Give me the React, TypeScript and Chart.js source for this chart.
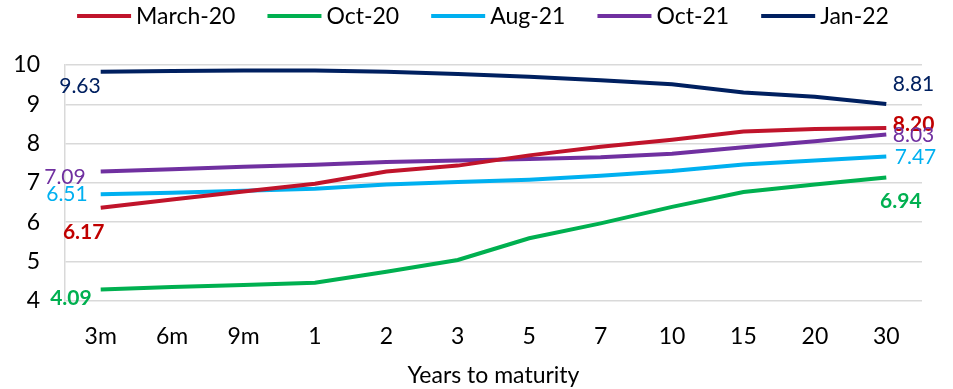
import React, { useEffect, useRef } from "react";
import { Chart, registerables } from "chart.js";

Chart.register(...registerables);

const categories = ["3m", "6m", "9m", "1", "2", "3", "5", "7", "10", "15", "20", "30"];
const seriesNames = ["March-20", "Oct-20", "Aug-21", "Oct-21", "Jan-22"];
const march20 = [6.17, 6.38, 6.58, 6.78, 7.09, 7.24, 7.5, 7.72, 7.9, 8.11, 8.17, 8.2];
const oct20 = [4.09, 4.15, 4.2, 4.26, 4.54, 4.84, 5.39, 5.77, 6.19, 6.57, 6.76, 6.94];
const aug21 = [6.51, 6.55, 6.6, 6.65, 6.76, 6.82, 6.88, 6.98, 7.1, 7.27, 7.37, 7.47];
const oct21 = [7.09, 7.15, 7.21, 7.26, 7.33, 7.37, 7.41, 7.45, 7.54, 7.71, 7.86, 8.03];
const jan22 = [9.63, 9.65, 9.66, 9.66, 9.63, 9.57, 9.5, 9.41, 9.31, 9.1, 8.99, 8.81];
const yTickValues = [3.8, 4.8, 5.8, 6.8, 7.8, 8.8, 9.8];
const yTickLabels = ["4", "5", "6", "7", "8", "9", "10"];
const xTitle = "Years to maturity";

const FONT = "Lato, 'Open Sans', sans-serif";

const styles = [
  { color: "#C0142B", label: "#C00000", bold: true,
    first: { dx: -17, dy: 25, align: "center" }, last: { dx: 6.5, dy: -4, align: "left" } },
  { color: "#00B050", label: "#00B050", bold: true,
    first: { dx: -9, dy: 9, align: "right" }, last: { dx: 14.5, dy: 24, align: "center" } },
  { color: "#00B0F0", label: "#00B0F0", bold: false,
    first: { dx: -13, dy: 0, align: "right" }, last: { dx: 8.5, dy: 1, align: "left" } },
  { color: "#7030A0", label: "#7030A0", bold: false,
    first: { dx: -15, dy: 6, align: "right" }, last: { dx: 6.5, dy: 1, align: "left" } },
  { color: "#002060", label: "#002060", bold: false,
    first: { dx: 0, dy: 15, align: "right" }, last: { dx: 6.5, dy: -20, align: "left" } },
];

const endLabels = {
  id: "endLabels",
  afterDatasetsDraw(chart: any) {
    const ctx = chart.ctx;
    ctx.save();
    ctx.textBaseline = "middle";
    chart.data.datasets.forEach((ds: any, i: number) => {
      const meta = chart.getDatasetMeta(i);
      const st = styles[i];
      const pts = meta.data;
      const n = pts.length;
      [[0, st.first], [n - 1, st.last]].forEach(([idx, pos]: any) => {
        const p = pts[idx];
        ctx.font = `${st.bold ? "bold " : ""}21px ${FONT}`;
        ctx.fillStyle = st.label;
        ctx.textAlign = pos.align;
        ctx.fillText(Number(ds.data[idx]).toFixed(2), p.x + pos.dx, p.y + pos.dy);
      });
    });
    ctx.restore();
  },
};

const lineLegend = {
  id: "lineLegend",
  afterDraw(chart: any) {
    const ctx = chart.ctx;
    ctx.save();
    ctx.font = `23px ${FONT}`;
    const lineW = 54, gap = 5, spacing = 32;
    const items = chart.data.datasets.map((ds: any) => ({
      text: ds.label, color: ds.borderColor, w: ctx.measureText(ds.label).width,
    }));
    const total = items.reduce((s: number, it: any) => s + lineW + gap + it.w, 0) + spacing * (items.length - 1);
    let x = 483 - total / 2;
    const y = 16;
    items.forEach((it: any) => {
      ctx.strokeStyle = it.color;
      ctx.lineWidth = 4;
      ctx.beginPath();
      ctx.moveTo(x, y);
      ctx.lineTo(x + lineW, y);
      ctx.stroke();
      ctx.fillStyle = "#000";
      ctx.textAlign = "left";
      ctx.textBaseline = "middle";
      ctx.fillText(it.text, x + lineW + gap, y + 1);
      x += lineW + gap + it.w + spacing;
    });
    ctx.restore();
  },
};

export default function App() {
  const ref = useRef<HTMLCanvasElement>(null);
  useEffect(() => {
    const all = [march20, oct20, aug21, oct21, jan22];
    const chart = new Chart(ref.current!, {
      type: "line",
      data: {
        labels: categories,
        datasets: all.map((d, i) => ({
          label: seriesNames[i],
          data: d,
          borderColor: styles[i].color,
          backgroundColor: styles[i].color,
          borderWidth: 4,
          pointRadius: 0,
          tension: 0,
          fill: false,
        })),
      },
      options: {
        responsive: false,
        animation: false,
        layout: { padding: { top: 65, left: 0, right: 31, bottom: 0 } },
        plugins: { legend: { display: false }, tooltip: { enabled: false } },
        scales: {
          x: {
            offset: true,
            grid: { display: false, drawTicks: false },
            border: { display: false },
            ticks: { color: "#000", font: { family: FONT, size: 23 }, padding: 22, maxRotation: 0 },
            title: { display: true, text: xTitle, color: "#000", font: { family: FONT, size: 23 }, padding: { top: -11, bottom: 0 } },
          },
          y: {
            min: 3.8,
            max: 9.8,
            afterBuildTicks: (scale: any) => {
              scale.ticks = yTickValues.map((v) => ({ value: v }));
            },
            afterFit: (scale: any) => {
              scale.width = 65;
            },
            grid: { color: "#D9D9D9", lineWidth: 1.5, drawTicks: false },
            border: { display: true, color: "#D9D9D9", width: 1.5 },
            ticks: {
              color: "#000",
              font: { family: FONT, size: 23 },
              padding: 25,
              callback: (v: any) => {
                const k = yTickValues.findIndex((t) => Math.abs(t - v) < 1e-6);
                return k >= 0 ? yTickLabels[k] : "";
              },
            },
          },
        },
      },
      plugins: [endLabels, lineLegend],
    });
    return () => chart.destroy();
  }, []);
  return (
    <div style={{ position: "fixed", left: 0, top: 0, width: 953, height: 389, background: "#fff" }}>
      <canvas ref={ref} width={953} height={389} style={{ display: "block" }} />
    </div>
  );
}
